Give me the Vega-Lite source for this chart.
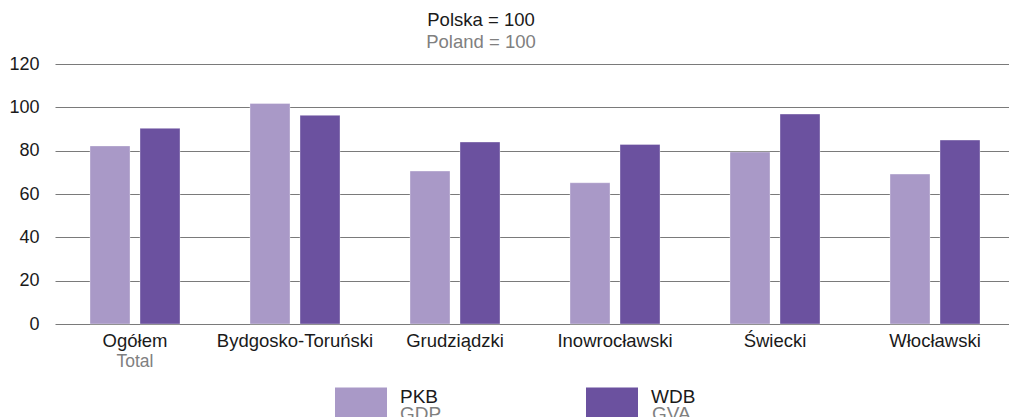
{
  "$schema": "https://vega.github.io/schema/vega-lite/v6.json",
  "width": 960,
  "height": 260,
  "autosize": {"type": "none"},
  "padding": {"left": 55, "top": 64, "right": 0, "bottom": 93},
  "config": {
    "font": "Liberation Sans",
    "view": {"stroke": null}
  },
  "title": {
    "text": "Polska = 100",
    "subtitle": "Poland = 100",
    "fontSize": 18.5,
    "fontWeight": "normal",
    "color": "#1a1a1a",
    "subtitleFontSize": 18.5,
    "subtitleColor": "#808080",
    "subtitlePadding": 3,
    "anchor": "middle",
    "offset": 4,
    "dx": -54
  },
  "data": {
    "values": [
      {"region": "Ogółem", "sub": "Total", "series": "PKB", "series_en": "GDP", "value": 82.2},
      {"region": "Ogółem", "sub": "Total", "series": "WDB", "series_en": "GVA", "value": 90.3},
      {"region": "Bydgosko-Toruński", "sub": "", "series": "PKB", "series_en": "GDP", "value": 101.8},
      {"region": "Bydgosko-Toruński", "sub": "", "series": "WDB", "series_en": "GVA", "value": 96.3},
      {"region": "Grudziądzki", "sub": "", "series": "PKB", "series_en": "GDP", "value": 70.6},
      {"region": "Grudziądzki", "sub": "", "series": "WDB", "series_en": "GVA", "value": 84.0},
      {"region": "Inowrocławski", "sub": "", "series": "PKB", "series_en": "GDP", "value": 65.2},
      {"region": "Inowrocławski", "sub": "", "series": "WDB", "series_en": "GVA", "value": 82.9},
      {"region": "Świecki", "sub": "", "series": "PKB", "series_en": "GDP", "value": 79.4},
      {"region": "Świecki", "sub": "", "series": "WDB", "series_en": "GVA", "value": 96.9},
      {"region": "Włocławski", "sub": "", "series": "PKB", "series_en": "GDP", "value": 69.2},
      {"region": "Włocławski", "sub": "", "series": "WDB", "series_en": "GVA", "value": 84.9}
    ]
  },
  "encoding": {
    "x": {
      "field": "region",
      "type": "nominal",
      "sort": null,
      "scale": {"paddingInner": 0.4375, "paddingOuter": 0.21875},
      "axis": {
        "title": null,
        "labelAngle": 0,
        "labelFontSize": 18.5,
        "labelColor": "#1a1a1a",
        "labelPadding": 7,
        "ticks": false,
        "domain": false
      }
    }
  },
  "layer": [
    {
      "mark": {"type": "bar", "stroke": "#ffffff", "strokeOpacity": 0.35, "strokeWidth": 1},
      "encoding": {
        "xOffset": {"field": "series", "type": "nominal", "scale": {"paddingInner": 0.2, "paddingOuter": 0}},
        "y": {
          "field": "value",
          "type": "quantitative",
          "scale": {"domain": [0, 120]},
          "axis": {
            "title": null,
            "values": [0, 20, 40, 60, 80, 100, 120],
            "grid": true,
            "gridColor": "#7a7a7a",
            "gridWidth": 1,
            "domain": false,
            "ticks": false,
            "labelFontSize": 18,
            "labelColor": "#1a1a1a",
            "labelPadding": 16
          }
        },
        "color": {
          "field": "series",
          "type": "nominal",
          "scale": {"domain": ["PKB", "WDB"], "range": ["#a999c7", "#6b519f"]},
          "legend": {
            "title": null,
            "orient": "none",
            "direction": "horizontal",
            "legendX": 280,
            "legendY": 313,
            "padding": 0,
            "symbolType": "M-1,-0.6H1V0.6H-1Z",
            "symbolSize": 2704,
            "symbolStrokeWidth": 0,
            "symbolOpacity": 1,
            "labelFontSize": 19,
            "labelColor": "#1a1a1a",
            "labelOffset": 13,
            "labelBaseline": "alphabetic",
            "columnPadding": 141,
            "gridAlign": "all"
          }
        },
        "opacity": {
          "field": "series_en",
          "type": "nominal",
          "scale": {"domain": ["GDP", "GVA"], "range": [1, 1]},
          "legend": {
            "title": null,
            "orient": "none",
            "direction": "horizontal",
            "legendX": 280,
            "legendY": 330,
            "padding": 0,
            "symbolType": "M-1,-0.6H1V0.6H-1Z",
            "symbolSize": 2704,
            "symbolOpacity": 0,
            "symbolFillColor": "transparent",
            "symbolStrokeColor": "transparent",
            "symbolStrokeWidth": 0,
            "labelFontSize": 19,
            "labelColor": "#808080",
            "labelOffset": 13,
            "labelBaseline": "alphabetic",
            "columnPadding": 145,
            "gridAlign": "all"
          }
        }
      }
    },
    {
      "transform": [{"filter": "datum.series == 'PKB' && datum.sub != ''"}],
      "mark": {"type": "text", "fontSize": 17.5, "color": "#808080", "baseline": "middle", "dy": 38},
      "encoding": {
        "y": {"datum": 0},
        "text": {"field": "sub"}
      }
    }
  ]
}
